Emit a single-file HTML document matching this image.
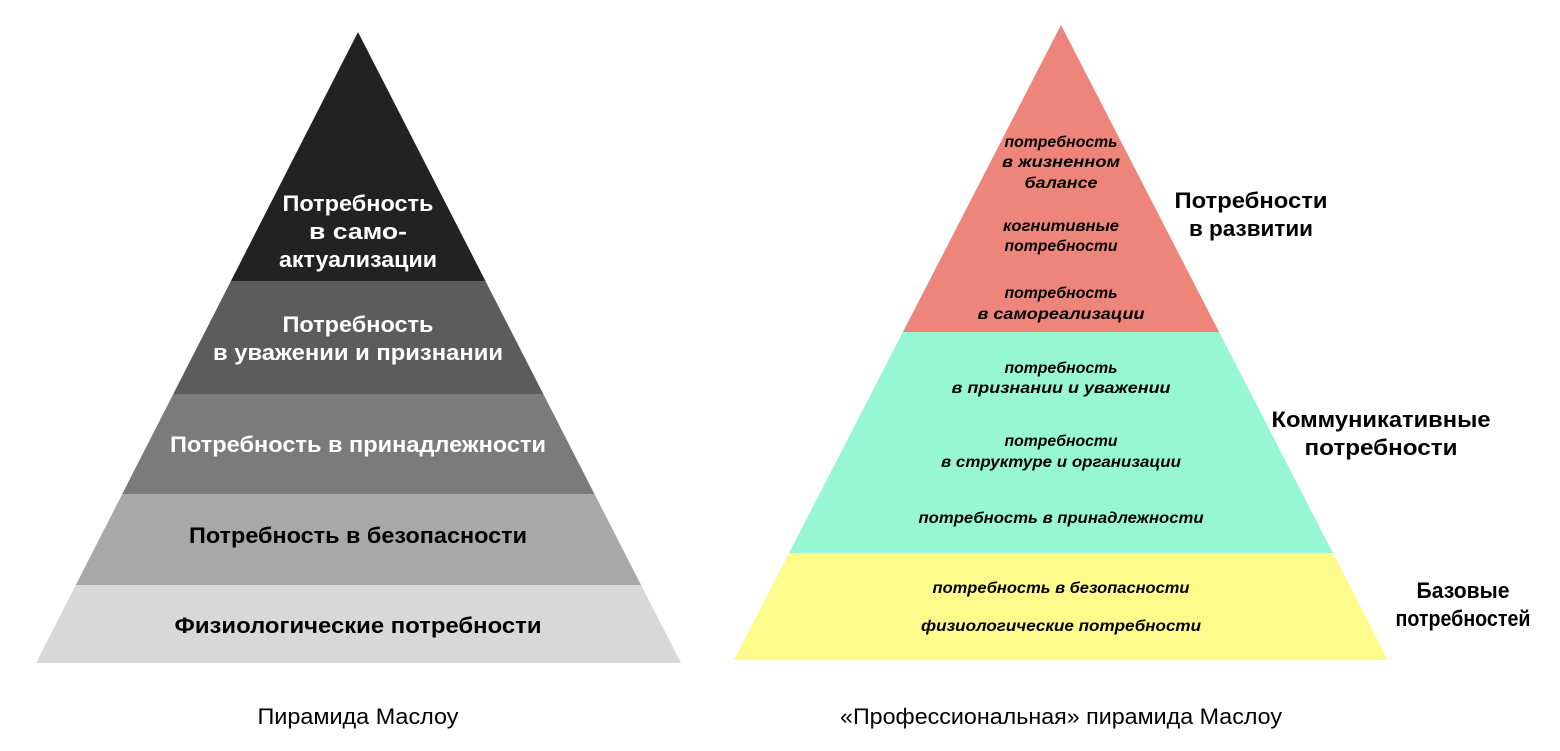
<!DOCTYPE html>
<html><head><meta charset="utf-8"><style>
html,body{margin:0;padding:0;background:#fff;}
svg{display:block;}
text{font-family:"Liberation Sans","DejaVu Sans",sans-serif;}
.w{fill:#fff;font-weight:bold;font-size:22px;}
.b{fill:#000;font-weight:bold;font-size:22px;}
.i{fill:#000;font-weight:bold;font-style:italic;font-size:16px;}
.l{fill:#000;font-weight:bold;font-size:22px;}
.c{fill:#000;font-size:22px;}
</style></head><body>
<svg width="1560" height="751" viewBox="0 0 1560 751" xmlns="http://www.w3.org/2000/svg">
<defs>
<clipPath id="L"><polygon points="358,32 681,663 36,663"/></clipPath>
<clipPath id="R"><polygon points="1061,25 1388,660 734,660"/></clipPath>
</defs>
<g clip-path="url(#L)">
<rect x="0" y="0" width="720" height="281" fill="#222222"/>
<rect x="0" y="281" width="720" height="113" fill="#5c5c5c"/>
<rect x="0" y="394" width="720" height="100" fill="#7b7b7b"/>
<rect x="0" y="494" width="720" height="91" fill="#a8a8a8"/>
<rect x="0" y="585" width="720" height="78" fill="#d8d8d8"/>
</g>
<g text-anchor="middle">
<text class="w" x="358" y="211" textLength="151" lengthAdjust="spacingAndGlyphs">Потребность</text>
<text class="w" x="358" y="239" textLength="98" lengthAdjust="spacingAndGlyphs">в само-</text>
<text class="w" x="358" y="267" textLength="158" lengthAdjust="spacingAndGlyphs">актуализации</text>
<text class="w" x="358" y="332" textLength="151" lengthAdjust="spacingAndGlyphs">Потребность</text>
<text class="w" x="358" y="360" textLength="290" lengthAdjust="spacingAndGlyphs">в уважении и признании</text>
<text class="w" x="358" y="452" textLength="376" lengthAdjust="spacingAndGlyphs">Потребность в принадлежности</text>
<text class="b" x="358" y="543" textLength="338" lengthAdjust="spacingAndGlyphs">Потребность в безопасности</text>
<text class="b" x="358" y="633" textLength="367" lengthAdjust="spacingAndGlyphs">Физиологические потребности</text>
<text class="c" x="358" y="724" textLength="201" lengthAdjust="spacingAndGlyphs">Пирамида Маслоу</text>
</g>
<g clip-path="url(#R)">
<rect x="700" y="0" width="720" height="332" fill="#ee857a"/>
<rect x="700" y="332" width="720" height="221" fill="#97f7d5"/>
<rect x="700" y="553" width="720" height="107" fill="#fdfb8c"/>
</g>
<g text-anchor="middle">
<text class="i" x="1061" y="147" textLength="113" lengthAdjust="spacingAndGlyphs">потребность</text>
<text class="i" x="1061" y="167" textLength="118" lengthAdjust="spacingAndGlyphs">в жизненном</text>
<text class="i" x="1061" y="188" textLength="73" lengthAdjust="spacingAndGlyphs">балансе</text>
<text class="i" x="1061" y="231" textLength="116" lengthAdjust="spacingAndGlyphs">когнитивные</text>
<text class="i" x="1061" y="251" textLength="113" lengthAdjust="spacingAndGlyphs">потребности</text>
<text class="i" x="1061" y="298" textLength="113" lengthAdjust="spacingAndGlyphs">потребность</text>
<text class="i" x="1061" y="319" textLength="167" lengthAdjust="spacingAndGlyphs">в самореализации</text>
<text class="i" x="1061" y="373" textLength="113" lengthAdjust="spacingAndGlyphs">потребность</text>
<text class="i" x="1061" y="393" textLength="219" lengthAdjust="spacingAndGlyphs">в признании и уважении</text>
<text class="i" x="1061" y="446" textLength="113" lengthAdjust="spacingAndGlyphs">потребности</text>
<text class="i" x="1061" y="467" textLength="240" lengthAdjust="spacingAndGlyphs">в структуре и организации</text>
<text class="i" x="1061" y="523" textLength="285" lengthAdjust="spacingAndGlyphs">потребность в принадлежности</text>
<text class="i" x="1061" y="593" textLength="257" lengthAdjust="spacingAndGlyphs">потребность в безопасности</text>
<text class="i" x="1061" y="631" textLength="280" lengthAdjust="spacingAndGlyphs">физиологические потребности</text>
<text class="l" x="1251" y="208" textLength="153" lengthAdjust="spacingAndGlyphs">Потребности</text>
<text class="l" x="1251" y="236" textLength="124" lengthAdjust="spacingAndGlyphs">в развитии</text>
<text class="l" x="1381" y="427" textLength="219" lengthAdjust="spacingAndGlyphs">Коммуникативные</text>
<text class="l" x="1381" y="455" textLength="153" lengthAdjust="spacingAndGlyphs">потребности</text>
<text class="l" x="1463" y="598" textLength="93" lengthAdjust="spacingAndGlyphs">Базовые</text>
<text class="l" x="1463" y="626" textLength="135" lengthAdjust="spacingAndGlyphs">потребностей</text>
<text class="c" x="1061" y="724" textLength="442" lengthAdjust="spacingAndGlyphs">«Профессиональная» пирамида Маслоу</text>
</g>
</svg>
</body></html>
